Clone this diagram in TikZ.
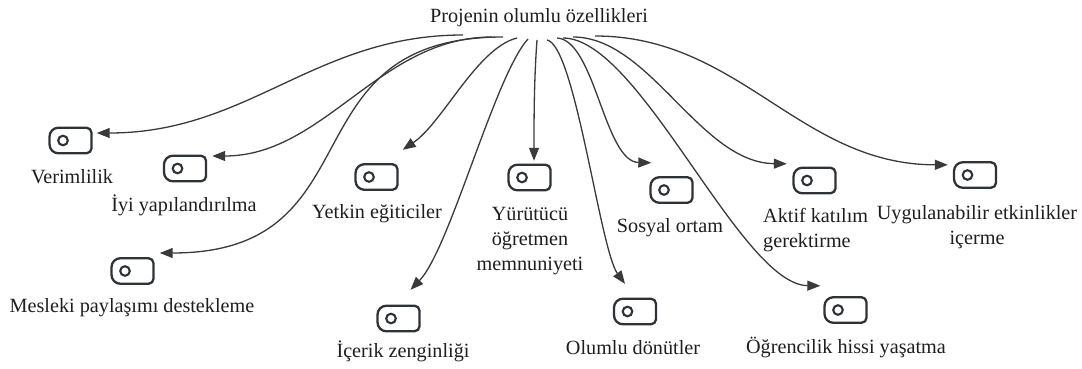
\documentclass[tikz,border=0pt]{standalone}
\usepackage{fontspec}
\setmainfont{Liberation Serif}
\usetikzlibrary{arrows.meta,calc}

\definecolor{ink}{HTML}{3A3A3A}
\definecolor{iconcol}{HTML}{2E3338}
\definecolor{txt}{HTML}{1E1E1E}

\tikzset{
  lbl/.style={font=\fontsize{20.2}{25}\selectfont, text=txt, inner sep=0pt,
    anchor=base, align=center},
  iconbox/.style={minimum width=44pt, minimum height=28pt, inner sep=0pt},
  link/.style={draw=ink, line width=1.3pt,
    -{Triangle[length=13pt,width=10pt]}},
  % toggle-switch icon: round-ended on the left, squarer on the right
  toggle/.pic={
    \begin{scope}[y=1pt]
      \draw[iconcol, line width=2.3pt, line join=round]
        (-12,-12.8) -- (16,-12.8) arc[start angle=-90, end angle=0, radius=5pt]
        -- (21,7.8) arc[start angle=0, end angle=90, radius=5pt]
        -- (-12,12.8) arc[start angle=90, end angle=180, radius=9pt]
        -- (-21,-3.8) arc[start angle=180, end angle=270, radius=9pt]
        -- cycle;
      \draw[iconcol, line width=2.1pt] (-7.5,0) circle[radius=4.8pt];
    \end{scope}
  }
}

\begin{document}
\begin{tikzpicture}[x=1pt, y=-1pt]
\useasboundingbox (0,0) rectangle (1082,369);

% root label
\node[lbl] (root) at (539,23) {Projenin olumlu özellikleri};

% toggle icons
\node[iconbox] (i1)  at (70.5,140.5) {};
\node[iconbox] (i2)  at (185,168.5) {};
\node[iconbox] (i3)  at (132.5,271) {};
\node[iconbox] (i4)  at (376.5,177) {};
\node[iconbox] (i5)  at (398.5,318.5) {};
\node[iconbox] (i6)  at (529.5,177.5) {};
\node[iconbox] (i7)  at (635,311.5) {};
\node[iconbox] (i8)  at (671.5,190) {};
\node[iconbox] (i9)  at (814.5,180.5) {};
\node[iconbox] (i10) at (975,175) {};
\node[iconbox] (i11) at (845.5,310) {};
\foreach \n in {i1,i2,i3,i4,i5,i6,i7,i8,i9,i10,i11}
  \pic at (\n) {toggle};

% captions (multi-line ones are placed by their last line)
\node[lbl] (l1)  at (72,183)  {Verimlilik};
\node[lbl] (l2)  at (184,211) {İyi yapılandırılma};
\node[lbl] (l3)  at (132,312) {Mesleki paylaşımı destekleme};
\node[lbl] (l4)  at (377,218) {Yetkin eğiticiler};
\node[lbl] (l5)  at (403,357) {İçerik zenginliği};
\node[lbl] (l6)  at (530,270) {Yürütücü\\öğretmen\\memnuniyeti};
\node[lbl] (l7)  at (633,354) {Olumlu dönütler};
\node[lbl] (l8)  at (670,232) {Sosyal ortam};
\node[lbl, align=left, anchor=base west] (l9) at (763,247) {Aktif katılım\\gerektirme};
\node[lbl] (l10) at (977,244) {Uygulanabilir etkinlikler\\içerme};
\node[lbl] (l11) at (846,353) {Öğrencilik hissi yaşatma};

% connector ends below the root label and arrow tips at the icons
\coordinate (s1)  at ($(root.base)+(-76,12)$);
\coordinate (s2)  at ($(root.base)+(-47,14)$);
\coordinate (s3)  at ($(root.base)+(-36,14)$);
\coordinate (s4)  at ($(root.base)+(-22,15)$);
\coordinate (s5)  at ($(root.base)+(-11,16)$);
\coordinate (s6)  at ($(root.base)+(-2,17)$);
\coordinate (s7)  at ($(root.base)+(8,17)$);
\coordinate (s8)  at ($(root.base)+(18,15)$);
\coordinate (s9)  at ($(root.base)+(24,15)$);
\coordinate (s10) at ($(root.base)+(34,14)$);
\coordinate (s11) at ($(root.base)+(56,13)$);

\coordinate (t1)  at ($(i1.east)+(4,-7.5)$);
\coordinate (t2)  at ($(i2.east)+(5,-12.5)$);
\coordinate (t3)  at ($(i3.east)+(5,-18)$);
\coordinate (t4)  at ($(i4.north east)+(4,-13)$);
\coordinate (t5)  at ($(i5.north)+(12,-14.5)$);
\coordinate (t6)  at ($(i6.north)+(4.5,-2.5)$);
\coordinate (t7)  at ($(i7.north)+(-10,-13.5)$);
\coordinate (t8)  at ($(i8.north west)+(2,-13)$);
\coordinate (t9)  at ($(i11.north west)+(-3,-10)$);
\coordinate (t10) at ($(i9.north west)+(-5.5,-2.5)$);
\coordinate (t11) at ($(i10.north west)+(-5,4)$);

\draw[link] (s1)  .. controls +(-148,0)  and +(152,0)   .. (t1);
\draw[link] (s2)  .. controls +(-112,0)  and +(112,0)   .. (t2);
\draw[link] (s3)  .. controls +(-220,0)  and +(220,0)   .. (t3);
\draw[link] (s4)  .. controls +(-40,10)  and +(40,-27)  .. (t4);
\draw[link] (s5)  .. controls +(-33,36)  and +(39,-40)  .. (t5);
\draw[link] (s6)  .. controls +(-3,40)   and +(0,-40)   .. (t6);
\draw[link] (s7)  .. controls +(28,5)    and +(-25,-34) .. (t7);
\draw[link] (s8)  .. controls +(38,2)    and +(-47,-1)  .. (t8);
\draw[link] (s9)  .. controls +(77,0)    and +(-80,-1)  .. (t9);
\draw[link] (s10) .. controls +(77,0)    and +(-87,-1)  .. (t10);
\draw[link] (s11) .. controls +(145,0)   and +(-148,0)  .. (t11);
\end{tikzpicture}
\end{document}
